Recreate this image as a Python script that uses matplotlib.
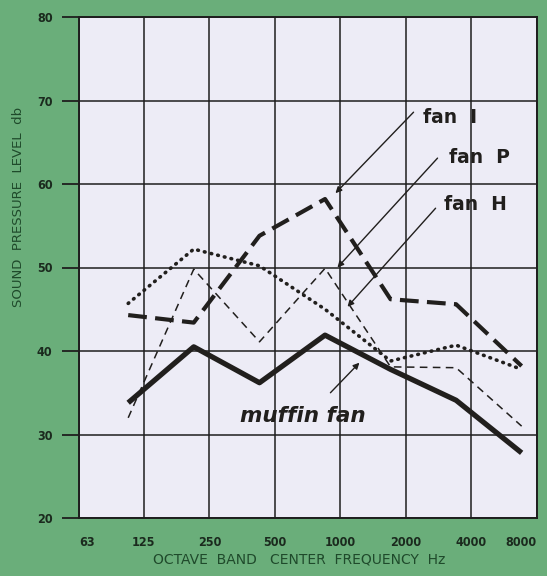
import numpy as np
import matplotlib
matplotlib.use('Agg')
import matplotlib.pyplot as plt
from matplotlib import font_manager

# octave band centres (old 75-150, 150-300 ... bands) and levels in dB
band_centres = [106, 212, 425, 850, 1700, 3400, 6800]
fan_i = [44.3, 43.4, 53.8, 58.2, 46.2, 45.6, 38.2]
fan_p = [32.0, 49.8, 41.1, 49.9, 38.1, 38.0, 31.0]
fan_h = [45.7, 52.2, 50.2, 45.0, 38.8, 40.7, 37.8]
muffin_fan = [33.8, 40.5, 36.2, 41.9, 37.8, 34.1, 27.8]

x_ticks = [63, 125, 250, 500, 1000, 2000, 4000, 8000]
x_tick_labels = ['63', '125', '250', '500', '1000', '2000', '4000', '8000']
y_ticks = [20, 30, 40, 50, 60, 70, 80]

bg_green = '#6aae7a'
paper = '#edecf6'
ink = '#211f1d'
grid_ink = '#1e1e1e'
label_green = '#1f4a2b'

# narrow bold face for the tick numbers if there is one
installed = {f.name for f in font_manager.fontManager.ttflist}
if 'Liberation Sans Narrow' in installed:
    tick_font = dict(family='Liberation Sans Narrow', weight='bold', size=10.5)
else:
    tick_font = dict(family='DejaVu Sans', weight='bold', stretch='condensed', size=9)

fig = plt.figure(figsize=(5.47, 5.76), dpi=100, facecolor=bg_green)
ax = fig.add_axes([79 / 547, 58 / 576, 458 / 547, 501 / 576])
ax.set_facecolor(paper)

ax.set_xscale('log', base=2)
ax.set_xlim(63, 8000)
ax.set_ylim(20, 80)

ax.set_xticks(x_ticks)
ax.set_xticklabels(x_tick_labels)
ax.xaxis.set_minor_locator(matplotlib.ticker.NullLocator())
ax.set_yticks(y_ticks)

ax.grid(True, color=grid_ink, linewidth=1.1, zorder=1)
ax.set_axisbelow(True)
for sp in ax.spines.values():
    sp.set_color(grid_ink)
    sp.set_linewidth(1.4)

ax.tick_params(axis='x', length=0, pad=13, colors='#1b2a1e')
ax.tick_params(axis='y', direction='out', length=12, width=1.3, color=grid_ink,
               pad=7, labelcolor='#1b2a1e')
for lab in ax.get_xticklabels() + ax.get_yticklabels():
    lab.set_fontproperties(font_manager.FontProperties(**tick_font))
ax.get_xticklabels()[0].set_ha('left')
ax.get_xticklabels()[-1].set_ha('right')

# data lines
ax.plot(band_centres, muffin_fan, color=ink, lw=3.8, solid_capstyle='butt', zorder=3)
ax.plot(band_centres, fan_i, color=ink, lw=3.0, dashes=(4.5, 2.0), zorder=3)
ax.plot(band_centres, fan_p, color=ink, lw=1.1, dashes=(5, 3.5), zorder=3)
ax.plot(band_centres, fan_h, color=ink, lw=2.6, dashes=(0.2, 1.7),
        dash_capstyle='round', zorder=3)

# labels with arrows
arrow = dict(arrowstyle='-|>', color=ink, lw=1.0, mutation_scale=9,
             shrinkA=0, shrinkB=0)
lab_font = dict(family='DejaVu Sans', weight='bold', size=13.5, color=ink,
                va='center', ha='left')

ax.annotate('', xy=(949, 58.9), xytext=(2168, 68.6), arrowprops=arrow, zorder=4)
ax.text(2384, 68.0, 'fan  I', **lab_font)

ax.annotate('', xy=(969, 50.0), xytext=(2794, 63.1), arrowprops=arrow, zorder=4)
ax.text(3141, 63.2, 'fan  P', **lab_font)

ax.annotate('', xy=(1078, 45.3), xytext=(2737, 57.1), arrowprops=arrow, zorder=4)
ax.text(2978, 57.6, 'fan  H', **lab_font)

ax.annotate('', xy=(1223, 38.6), xytext=(900, 35.0), arrowprops=arrow, zorder=4)
ax.text(669, 32.2, 'muffin fan', family='DejaVu Sans', weight='bold', style='italic',
        size=15.5, color=ink, va='center', ha='center')

ax.set_ylabel('SOUND  PRESSURE  LEVEL  db', fontsize=9.5, color=label_green)
ax.yaxis.set_label_coords(-0.118, 0.62)
ax.set_xlabel('OCTAVE  BAND   CENTER  FREQUENCY  Hz', fontsize=10, color=label_green)
ax.xaxis.set_label_coords(0.48, -0.068)

fig.savefig('out.png', dpi=100, facecolor=bg_green)
